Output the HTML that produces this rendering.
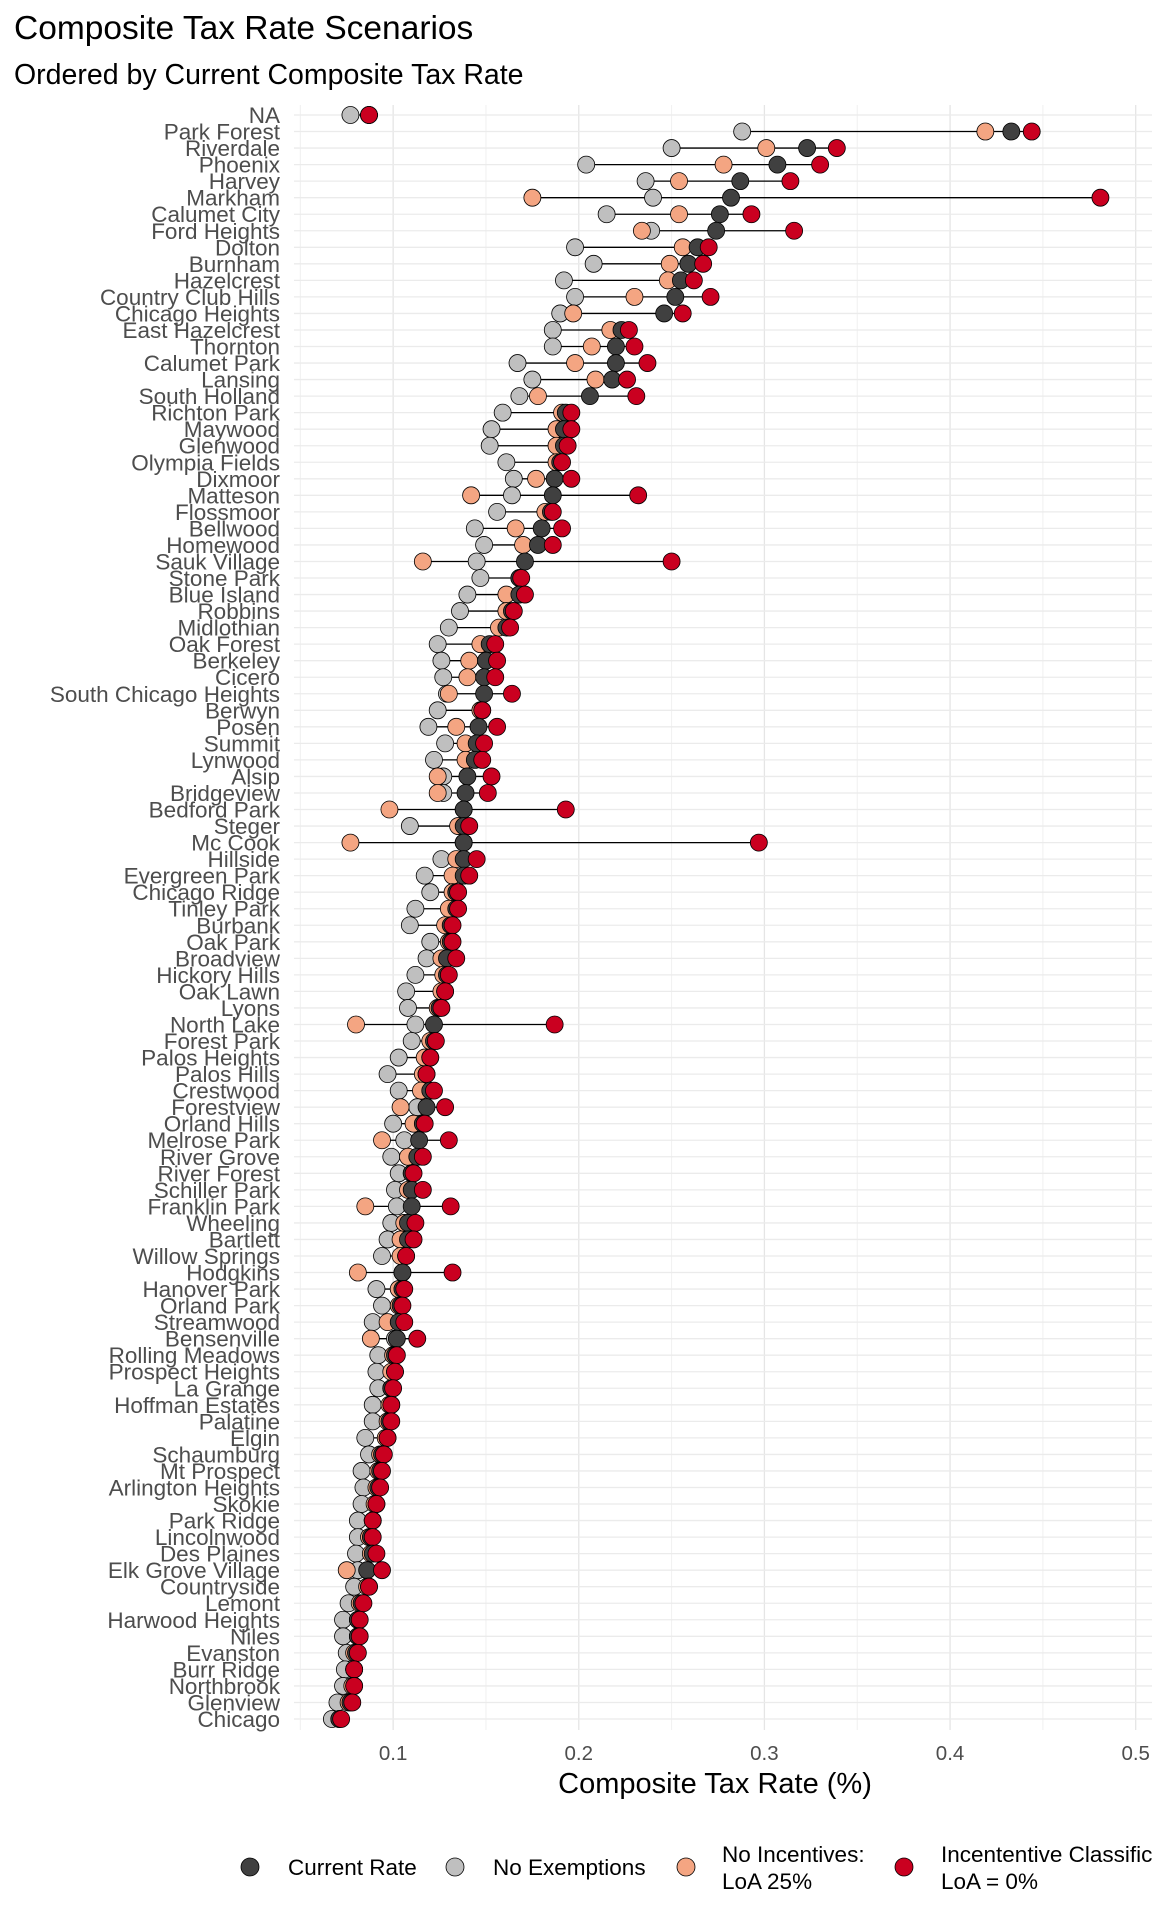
<!DOCTYPE html>
<html><head><meta charset="utf-8"><style>
html,body{margin:0;padding:0;background:#fff;width:1152px;height:1920px;overflow:hidden}
svg text{font-family:"Liberation Sans",Arial,sans-serif}
</style></head><body>
<svg id="chart" width="1152" height="1920" viewBox="0 0 1152 1920" xmlns="http://www.w3.org/2000/svg">
<text x="14" y="39" font-size="33.5" fill="#000">Composite Tax Rate Scenarios</text>
<text x="14" y="84" font-size="28.5" fill="#000">Ordered by Current Composite Tax Rate</text>
<g id="grid"></g><g id="marks"></g><g id="ylabels"></g><g id="xlabels"></g>
<text x="715" y="1793" font-size="29" text-anchor="middle" fill="#000">Composite Tax Rate (%)</text>
<g id="legend"></g>
</svg>
<script>
const municipalities=["NA","Park Forest","Riverdale","Phoenix","Harvey","Markham","Calumet City","Ford Heights","Dolton","Burnham","Hazelcrest","Country Club Hills","Chicago Heights","East Hazelcrest","Thornton","Calumet Park","Lansing","South Holland","Richton Park","Maywood","Glenwood","Olympia Fields","Dixmoor","Matteson","Flossmoor","Bellwood","Homewood","Sauk Village","Stone Park","Blue Island","Robbins","Midlothian","Oak Forest","Berkeley","Cicero","South Chicago Heights","Berwyn","Posen","Summit","Lynwood","Alsip","Bridgeview","Bedford Park","Steger","Mc Cook","Hillside","Evergreen Park","Chicago Ridge","Tinley Park","Burbank","Oak Park","Broadview","Hickory Hills","Oak Lawn","Lyons","North Lake","Forest Park","Palos Heights","Palos Hills","Crestwood","Forestview","Orland Hills","Melrose Park","River Grove","River Forest","Schiller Park","Franklin Park","Wheeling","Bartlett","Willow Springs","Hodgkins","Hanover Park","Orland Park","Streamwood","Bensenville","Rolling Meadows","Prospect Heights","La Grange","Hoffman Estates","Palatine","Elgin","Schaumburg","Mt Prospect","Arlington Heights","Skokie","Park Ridge","Lincolnwood","Des Plaines","Elk Grove Village","Countryside","Lemont","Harwood Heights","Niles","Evanston","Burr Ridge","Northbrook","Glenview","Chicago"];
const currentRate=[0.087,0.433,0.323,0.307,0.287,0.282,0.276,0.274,0.264,0.259,0.255,0.252,0.246,0.223,0.220,0.220,0.218,0.206,0.193,0.192,0.192,0.190,0.187,0.186,0.185,0.180,0.178,0.171,0.168,0.168,0.164,0.161,0.152,0.150,0.149,0.149,0.148,0.146,0.145,0.144,0.140,0.139,0.138,0.138,0.138,0.138,0.138,0.134,0.134,0.131,0.131,0.129,0.129,0.128,0.125,0.122,0.122,0.120,0.118,0.120,0.118,0.116,0.114,0.113,0.110,0.110,0.110,0.108,0.108,0.107,0.105,0.105,0.104,0.103,0.102,0.101,0.101,0.099,0.099,0.098,0.097,0.094,0.093,0.092,0.091,0.089,0.088,0.089,0.086,0.087,0.083,0.081,0.081,0.080,0.079,0.079,0.077,0.071];
const noExemptions=[0.077,0.288,0.250,0.204,0.236,0.240,0.215,0.239,0.198,0.208,0.192,0.198,0.190,0.186,0.186,0.167,0.175,0.168,0.159,0.153,0.152,0.161,0.165,0.164,0.156,0.144,0.149,0.145,0.147,0.140,0.136,0.130,0.124,0.126,0.127,0.129,0.124,0.119,0.128,0.122,0.127,0.127,0.138,0.109,0.138,0.126,0.117,0.120,0.112,0.109,0.120,0.118,0.112,0.107,0.108,0.112,0.110,0.103,0.097,0.103,0.113,0.100,0.106,0.099,0.103,0.101,0.102,0.099,0.097,0.094,0.105,0.091,0.094,0.089,0.101,0.092,0.091,0.092,0.089,0.089,0.085,0.087,0.083,0.084,0.083,0.081,0.081,0.080,0.081,0.079,0.076,0.073,0.073,0.075,0.074,0.073,0.070,0.067];
const noIncentives=[0.087,0.419,0.301,0.278,0.254,0.175,0.254,0.234,0.256,0.249,0.248,0.230,0.197,0.217,0.207,0.198,0.209,0.178,0.191,0.188,0.188,0.188,0.177,0.142,0.182,0.166,0.170,0.116,0.168,0.161,0.161,0.157,0.147,0.141,0.140,0.130,0.147,0.134,0.139,0.139,0.124,0.124,0.098,0.135,0.077,0.134,0.132,0.132,0.130,0.128,0.130,0.126,0.127,0.126,0.124,0.080,0.120,0.117,0.116,0.115,0.104,0.111,0.094,0.108,0.110,0.108,0.085,0.106,0.104,0.104,0.081,0.103,0.103,0.097,0.088,0.100,0.099,0.099,0.098,0.097,0.096,0.093,0.092,0.091,0.090,0.089,0.087,0.088,0.075,0.086,0.082,0.081,0.081,0.079,0.079,0.078,0.076,0.071];
const incentiveClass=[0.087,0.444,0.339,0.330,0.314,0.481,0.293,0.316,0.270,0.267,0.262,0.271,0.256,0.227,0.230,0.237,0.226,0.231,0.196,0.196,0.194,0.191,0.196,0.232,0.186,0.191,0.186,0.250,0.169,0.171,0.165,0.163,0.155,0.156,0.155,0.164,0.148,0.156,0.149,0.148,0.153,0.151,0.193,0.141,0.297,0.145,0.141,0.135,0.135,0.132,0.132,0.134,0.130,0.128,0.126,0.187,0.123,0.120,0.118,0.122,0.128,0.117,0.130,0.116,0.111,0.116,0.131,0.112,0.111,0.107,0.132,0.106,0.105,0.106,0.113,0.102,0.101,0.100,0.099,0.099,0.097,0.095,0.094,0.093,0.091,0.089,0.089,0.091,0.094,0.087,0.084,0.082,0.082,0.081,0.079,0.079,0.078,0.072];
const xTicks=[0.1,0.2,0.3,0.4,0.5];
const xTickLabels=["0.1","0.2","0.3","0.4","0.5"];
const xMinor=[0.05,0.15,0.25,0.35,0.45];

const NS="http://www.w3.org/2000/svg";
const PL=294,PR=1152,PT=105,PB=1730;
const xScale=v=>207.5+v*1856.4;
const yScale=i=>115+i*(1719-115)/(municipalities.length-1);
function mk(tag,attrs,parent){const e=document.createElementNS(NS,tag);for(const k in attrs)e.setAttribute(k,attrs[k]);parent.appendChild(e);return e;}
const grid=document.getElementById('grid'),marks=document.getElementById('marks'),yl=document.getElementById('ylabels'),xl=document.getElementById('xlabels'),lg=document.getElementById('legend');
xMinor.forEach(v=>{const l=mk('line',{x1:xScale(v),x2:xScale(v),y1:PT,y2:PB,stroke:'#f0f0f0','stroke-width':1},grid);

});
xTicks.forEach((v,i)=>{const l=mk('line',{x1:xScale(v),x2:xScale(v),y1:PT,y2:PB,stroke:'#e5e5e5','stroke-width':1.3},grid);


const t=mk('text',{x:xScale(v),y:1760,'font-size':20.5,fill:'#4d4d4d','text-anchor':'middle'},xl);t.textContent=xTickLabels[i];

});
const colors={cur:'#404040',noex:'#bfbfbf',noinc:'#f4a582',inc:'#ca0020'};
municipalities.forEach((m,i)=>{
  const y=yScale(i);
  const g=mk('line',{x1:PL,x2:PR,y1:y,y2:y,stroke:'#ebebeb','stroke-width':1.3},grid);
  
  
  const t=mk('text',{x:280,y:y+8,'font-size':22.5,fill:'#4d4d4d','text-anchor':'end'},yl);t.textContent=m;
  
  
  const vals=[currentRate[i],noExemptions[i],noIncentives[i],incentiveClass[i]];
  const ln=mk('line',{x1:xScale(Math.min(...vals)),x2:xScale(Math.max(...vals)),y1:y,y2:y,stroke:'#000','stroke-width':1.3},marks);
  
  
  const p1=mk('circle',{cx:xScale(noExemptions[i]),cy:y,r:8.5,fill:colors.noex,stroke:'#000','stroke-width':0.8},marks);
  
  
  const p2=mk('circle',{cx:xScale(noIncentives[i]),cy:y,r:8.5,fill:colors.noinc,stroke:'#000','stroke-width':0.8},marks);
  
  
  const p3=mk('circle',{cx:xScale(currentRate[i]),cy:y,r:8.5,fill:colors.cur,stroke:'#000','stroke-width':0.8},marks);
  
  
  const p4=mk('circle',{cx:xScale(incentiveClass[i]),cy:y,r:8.5,fill:colors.inc,stroke:'#000','stroke-width':0.8},marks);
  
  
});
const legendItems=[[250,288,colors.cur,["Current Rate"]],[455,493,colors.noex,["No Exemptions"]],[686,722,colors.noinc,["No Incentives:","LoA 25%"]],[904,941,colors.inc,["Incententive Classification","LoA = 0%"]]];
legendItems.forEach(it=>{
  const c=mk('circle',{cx:it[0],cy:1867,r:9,fill:it[2],stroke:'#000','stroke-width':0.8},lg);
  
  
  const t=mk('text',{x:it[1],'font-size':22.5,fill:'#000'},lg);
  
  
  if(it[3].length===1){t.setAttribute('y',1875);t.textContent=it[3][0];}
  else{t.setAttribute('y',1862);t.textContent=it[3][0];const t2=mk('text',{x:it[1],y:1889,'font-size':22.5,fill:'#000'},lg);t2.textContent=it[3][1];
  
  }
});
</script>
</body></html>
